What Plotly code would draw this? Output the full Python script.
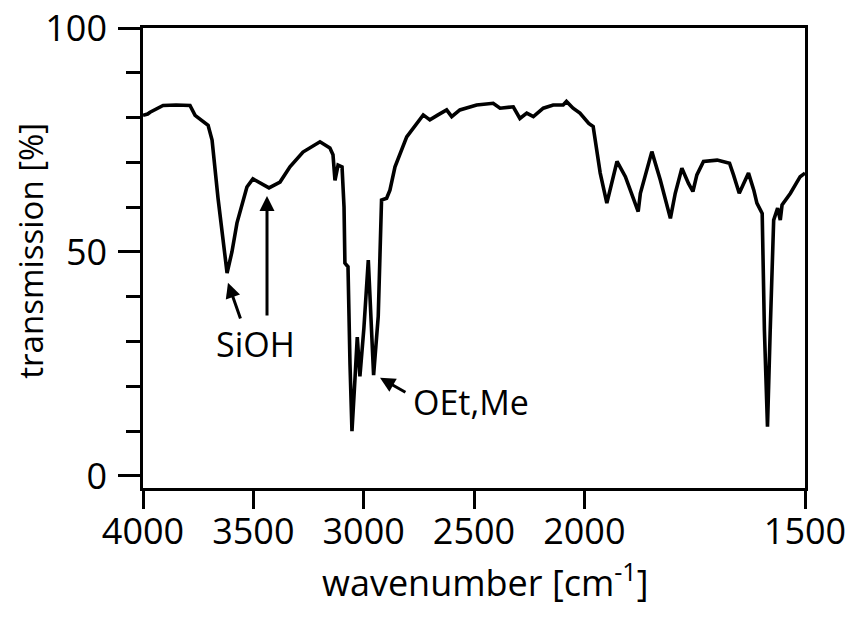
import plotly.graph_objects as go

# IR spectrum: wavenumber [cm^-1] and transmission [%]
wavenumber = [4000, 3979, 3968, 3909, 3850, 3787, 3764, 3728, 3705, 3687, 3660, 3619,
              3597, 3574, 3529, 3502, 3470, 3429, 3379, 3334, 3275, 3198, 3153, 3139,
              3130, 3116, 3098, 3089, 3085, 3071, 3062, 3053, 3039, 3029, 3017, 2999,
              2979, 2967, 2955, 2934, 2919, 2896, 2881, 2858, 2805, 2730, 2700, 2663,
              2624, 2601, 2564, 2488, 2413, 2382, 2322, 2292, 2261, 2231, 2186, 2141,
              2096, 2081, 2051, 2020, 1990, 1980, 1964, 1949, 1926, 1907, 1896, 1878,
              1873, 1847, 1828, 1805, 1794, 1779, 1764, 1754, 1745, 1730, 1699, 1671,
              1662, 1649, 1628, 1616, 1609, 1597, 1592, 1585, 1579, 1571, 1562, 1556,
              1552, 1533, 1511, 1500]
transmission = [80.5, 80.8, 81.2, 82.7, 82.8, 82.7, 80.5, 79.0, 78.3, 75.0, 62.0, 45.3,
                50.0, 56.5, 64.5, 66.3, 65.4, 64.3, 65.6, 69.0, 72.3, 74.6, 73.2, 71.7,
                66.0, 69.4, 69.0, 60.0, 47.5, 46.7, 25.0, 10.0, 22.0, 31.0, 22.2, 33.0,
                48.2, 33.0, 22.5, 35.6, 61.6, 62.0, 63.8, 69.0, 75.7, 80.6, 79.5, 80.6,
                81.7, 80.2, 81.7, 82.8, 83.2, 82.1, 82.4, 79.8, 81.0, 80.2, 82.1, 82.8,
                82.8, 83.6, 82.1, 81.0, 78.7, 78.0, 67.6, 60.9, 70.2, 66.8, 63.8, 59.0,
                63.1, 72.4, 66.1, 57.5, 63.1, 68.7, 65.3, 63.5, 67.2, 70.2, 70.5, 69.8,
                67.2, 63.1, 67.6, 63.8, 60.9, 58.6, 32.6, 11.0, 31.9, 57.1, 59.8, 57.1,
                60.5, 63.1, 66.8, 67.6]

x_ticks = [4000, 3500, 3000, 2500, 2000, 1500]
x_tick_labels = ["4000", "3500", "3000", "2500", "2000", "1500"]
y_ticks = [0, 50, 100]
y_tick_labels = ["0", "50", "100"]


def to_axis(w):
    # IR chart scale: below 2000 cm^-1 the scale is expanded by a factor of two
    if w >= 2000:
        return 4000 - w
    return 2000 + 2 * (2000 - w)


xs = [to_axis(w) for w in wavenumber]

FONT = "Open Sans"
fig = go.Figure()
fig.add_trace(go.Scatter(x=xs, y=transmission, mode="lines",
                         line=dict(color="black", width=3.6), hoverinfo="skip"))

fig.update_layout(
    width=850, height=618,
    margin=dict(l=143, r=45, t=28, b=130, autoexpand=False),
    paper_bgcolor="white", plot_bgcolor="white",
    showlegend=False,
    font=dict(family=FONT, color="black", size=32),
    xaxis=dict(range=[0, 3000], tickvals=[to_axis(w) for w in x_ticks],
               ticktext=x_tick_labels, ticks="outside", ticklen=18, tickwidth=2.5,
               tickcolor="black", showline=True, linecolor="black", linewidth=2.5,
               mirror=True, showgrid=False, zeroline=False, automargin=False,
               ticklabelstandoff=-8,
               tickfont=dict(family=FONT, size=36)),
    yaxis=dict(range=[-2.7, 100], tickvals=y_ticks, ticktext=y_tick_labels,
               ticks="outside", ticklen=22, tickwidth=2.5, tickcolor="black",
               showline=True, linecolor="black", linewidth=2.5, mirror=True,
               showgrid=False, zeroline=False, automargin=False,
               ticklabelstandoff=4,
               tickfont=dict(family=FONT, size=36),
               minor=dict(dtick=10, tick0=0, ticks="outside", ticklen=14,
                          tickwidth=2.5, tickcolor="black", showgrid=False)),
)

# axis titles
fig.add_annotation(text="wavenumber [cm<sup>-1</sup>]", xref="paper", yref="paper",
                   x=0.517, y=-0.2, xanchor="center", yanchor="middle",
                   showarrow=False, font=dict(size=36))
fig.add_annotation(text="transmission [%]", xref="paper", yref="paper",
                   x=-0.17, y=0.517, xanchor="center", yanchor="middle",
                   textangle=-90, showarrow=False, font=dict(size=33))

# labels with arrows
arrow = dict(showarrow=True, arrowhead=2, arrowsize=1.0, arrowwidth=3,
             arrowcolor="black", axref="x", ayref="y", text="")
fig.add_annotation(x=to_axis(3615), y=43.1, ax=to_axis(3556), ay=34.8, **arrow)
fig.add_annotation(x=to_axis(3438), y=62.5, ax=to_axis(3438), ay=35.5, **arrow)
fig.add_annotation(x=to_axis(2926), y=21.9, ax=to_axis(2804), ay=18.5, **arrow)
fig.add_annotation(text="SiOH", x=to_axis(3492), y=29.4, showarrow=False,
                   font=dict(size=34))
fig.add_annotation(text="OEt,Me", x=to_axis(2514), y=16.5, showarrow=False,
                   font=dict(size=34))

fig.write_html("out.html", config={"displayModeBar": False},
               post_script="document.body.style.margin='0px';")
